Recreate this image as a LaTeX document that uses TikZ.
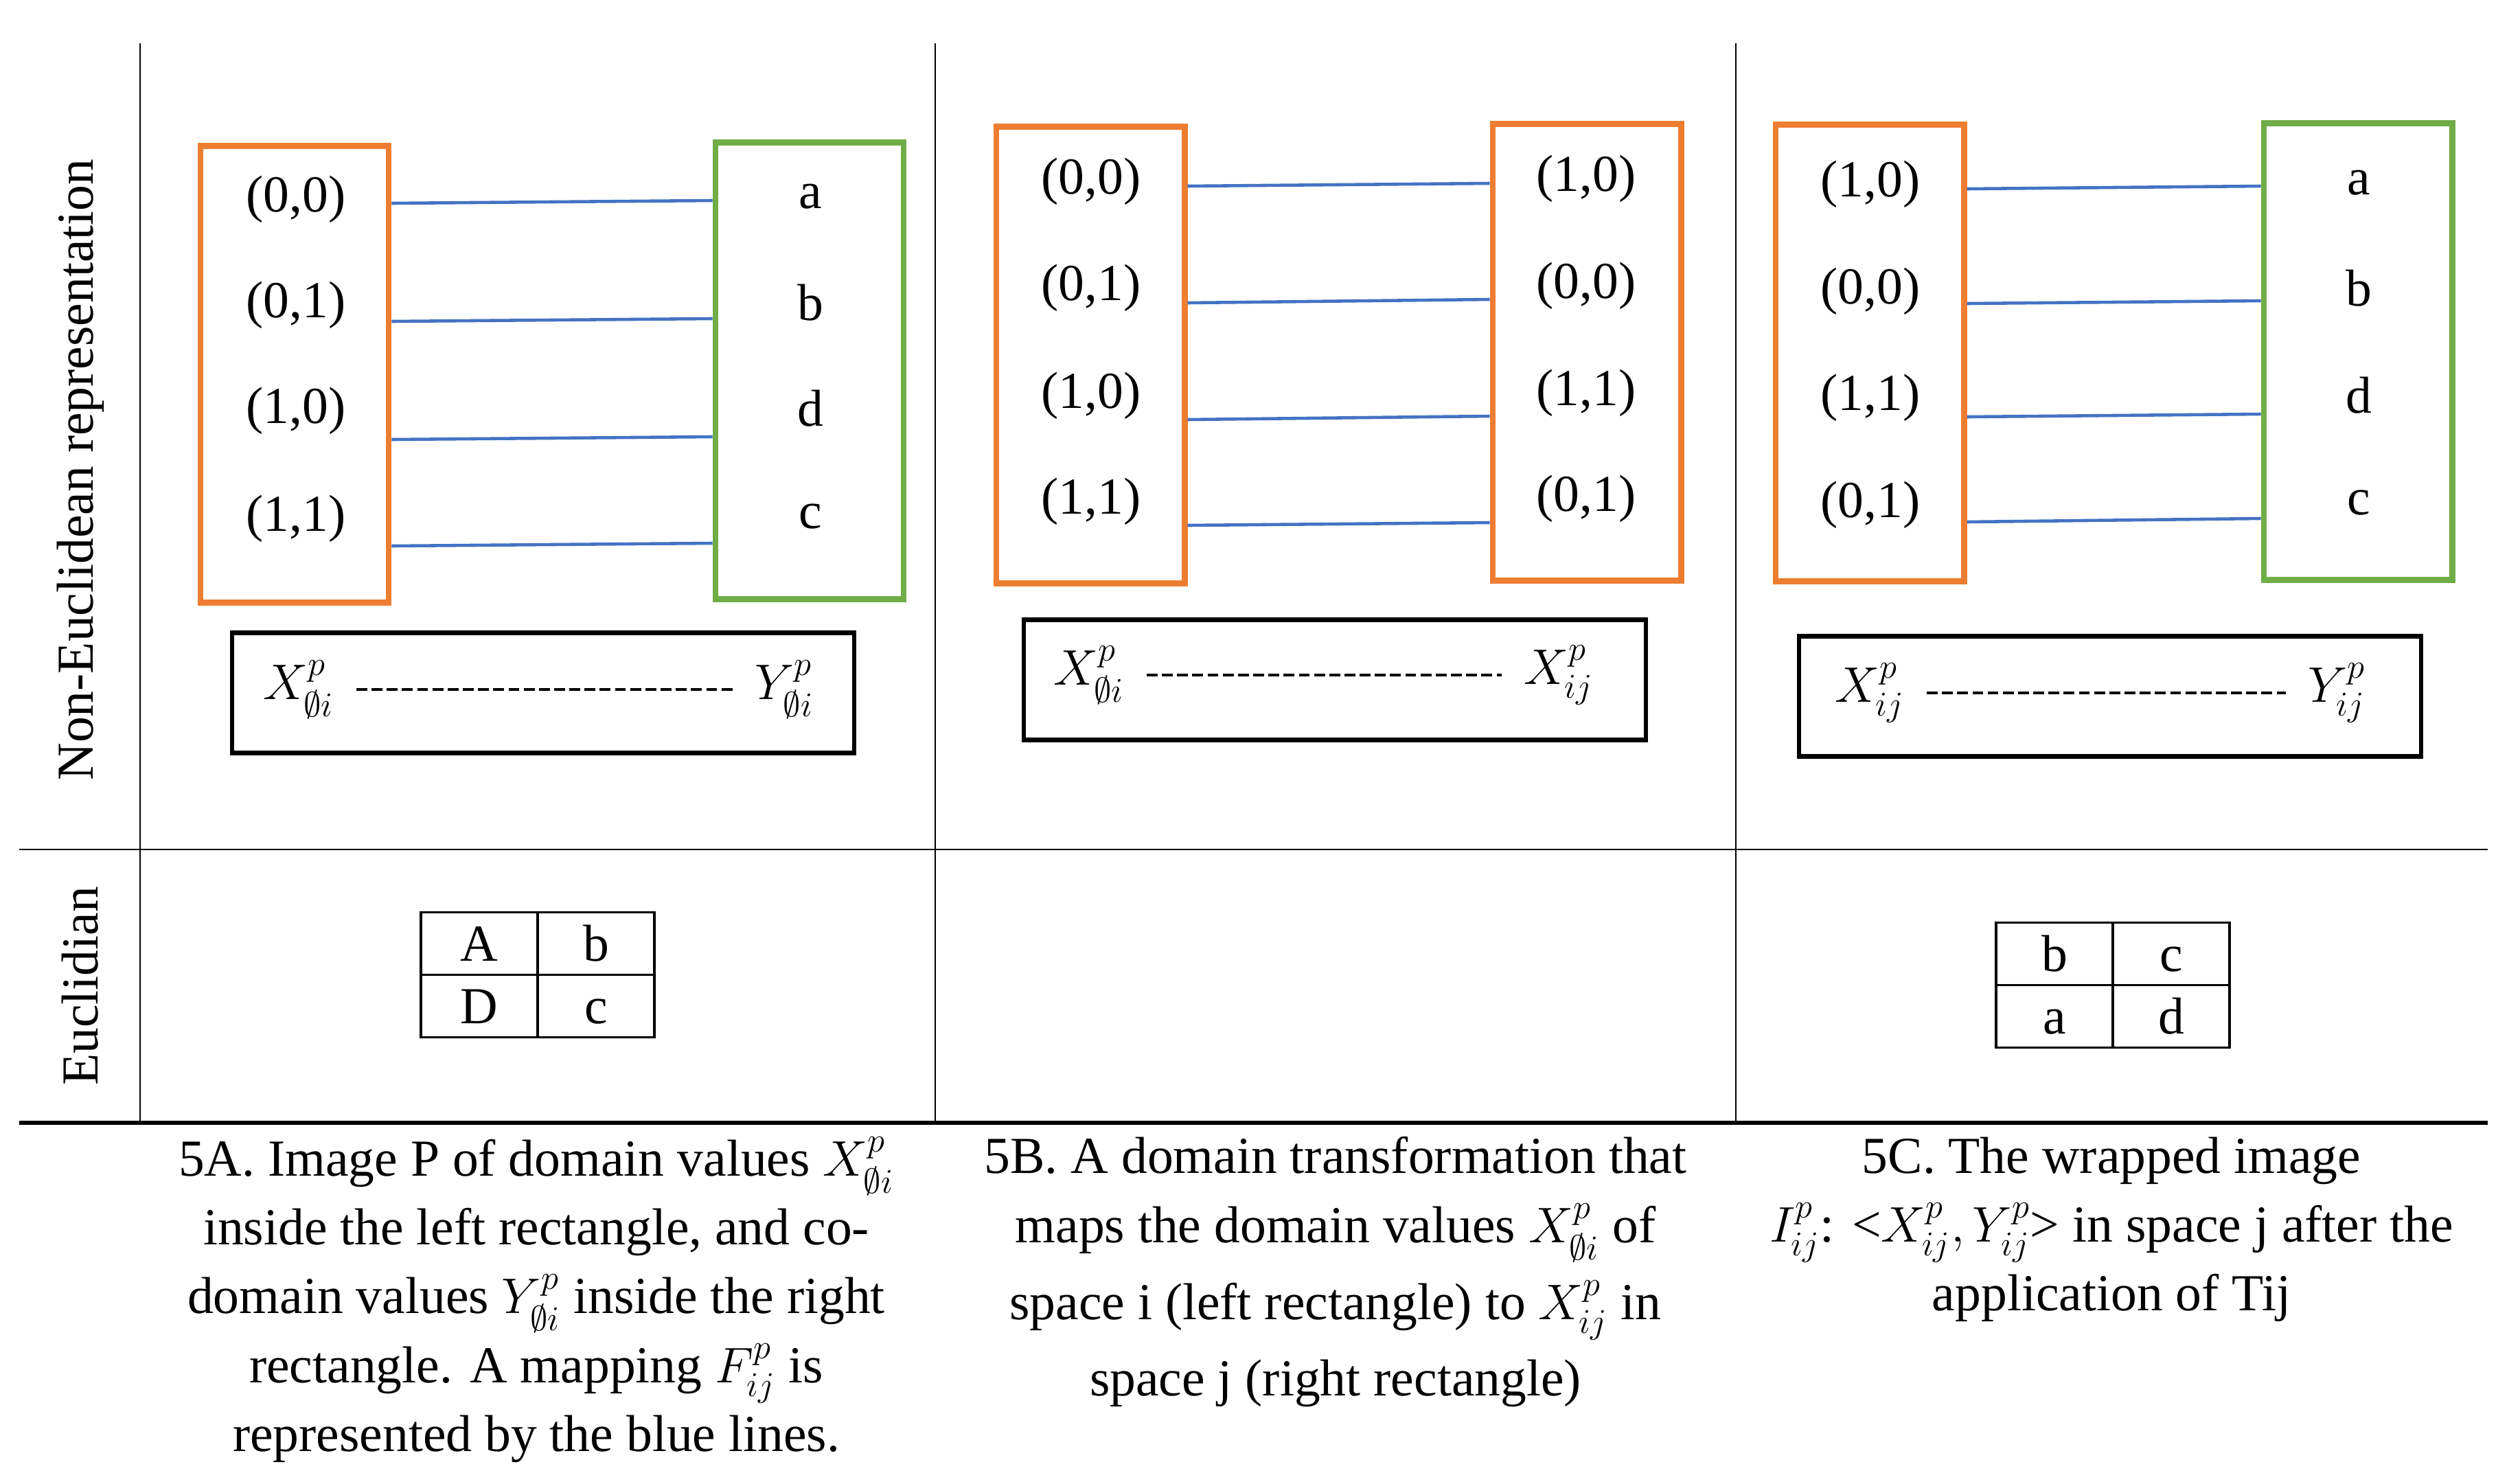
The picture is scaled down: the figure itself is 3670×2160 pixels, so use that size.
\documentclass[tikz,border=0pt]{standalone}
\usepackage{fontspec}
\setmainfont{Liberation Serif}
\usepackage{amssymb}
\usetikzlibrary{positioning}
\definecolor{wOrange}{RGB}{237,125,49}
\definecolor{wGreen}{RGB}{112,173,71}
\definecolor{wBlue}{RGB}{68,114,196}
\newcommand{\figfont}{\fontsize{21.5}{28.5}\selectfont}

\begin{document}
\begin{tikzpicture}[
  x=0.01cm, y=-0.01cm,
  font=\figfont,
  dom/.style={draw=wOrange, line width=2.5pt, minimum width=2.74cm, minimum height=6.65cm, inner sep=0pt},
  cod/.style={draw=wGreen, line width=2.5pt, minimum width=2.74cm, minimum height=6.65cm, inner sep=0pt},
  rel/.style={draw=black, line width=1.8pt, minimum width=9.05cm, minimum height=1.75cm, inner sep=0pt},
  val/.style={anchor=base, inner sep=0pt},
  sym/.style={inner sep=9pt},
  map/.style={draw=wBlue, line width=1.3pt},
  dsh/.style={line width=1pt, dash pattern=on 4.5pt off 1.8pt},
  cell/.style={draw=black, line width=1pt, minimum width=1.7cm, minimum height=0.91cm, inner sep=0pt, outer sep=0pt, text height=14.5pt, text depth=0pt},
  grid/.style={line width=0.8pt},
  captxt/.style={anchor=north, align=center, inner sep=0pt},
]
\useasboundingbox (0,0) rectangle (3670,2160);

% ---- table rules ----
\draw[grid] (204,63) -- (204,1635);
\draw[grid] (1362,63) -- (1362,1635);
\draw[grid] (2528,63) -- (2528,1635);
\draw[grid] (28,1237) -- (3623,1237);
\draw[grid, line width=1.5pt] (28,1635) -- (3623,1635);

% ---- row titles ----
\node[rotate=90] (rowNE) at (117,684) {Non-Euclidean representation};
\node[rotate=90] (rowEU) at (117,1436) {Euclidian};

% ---- 5A: image P ----
\node[dom] (domA) at (429,545) {};
\node[cod] (codA) at (1179,540) {};
\node[val] (dA1) at (431,308) {(0,0)};
\node[val] (dA2) at (431,462) {(0,1)};
\node[val] (dA3) at (431,616) {(1,0)};
\node[val] (dA4) at (431,773) {(1,1)};
\node[val] (cA1) at (1180,303) {a};
\node[val] (cA2) at (1180,466) {b};
\node[val] (cA3) at (1180,620) {d};
\node[val] (cA4) at (1180,769) {c};
\draw[map] (domA.east |- 0,296) -- (codA.west |- 0,292);
\draw[map] (domA.east |- 0,468) -- (codA.west |- 0,464);
\draw[map] (domA.east |- 0,640) -- (codA.west |- 0,636);
\draw[map] (domA.east |- 0,795) -- (codA.west |- 0,791);

\node[rel] (relA) at (791,1009) {};
\node[sym] (xA) at (435,1004) {$X^{p}_{\emptyset i}$};
\node[sym] (yA) at (1142,1004) {$Y^{p}_{\emptyset i}$};
\draw[dsh] (xA) -- (yA);

% ---- 5B: domain transformation ----
\node[dom] (domB) at (1588,517) {};
\node[dom] (domB2) at (2311,513) {};
\node[val] (dB1) at (1589,282) {(0,0)};
\node[val] (dB2) at (1589,437) {(0,1)};
\node[val] (dB3) at (1589,594) {(1,0)};
\node[val] (dB4) at (1589,748) {(1,1)};
\node[val] (eB1) at (2310,278) {(1,0)};
\node[val] (eB2) at (2310,434) {(0,0)};
\node[val] (eB3) at (2310,590) {(1,1)};
\node[val] (eB4) at (2310,744) {(0,1)};
\draw[map] (domB.east |- 0,271) -- (domB2.west |- 0,267);
\draw[map] (domB.east |- 0,441) -- (domB2.west |- 0,436);
\draw[map] (domB.east |- 0,611) -- (domB2.west |- 0,606);
\draw[map] (domB.east |- 0,765) -- (domB2.west |- 0,761);

\node[rel] (relB) at (1944,990) {};
\node[sym] (xB) at (1586,983) {$X^{p}_{\emptyset i}$};
\node[sym] (xB2) at (2270,983) {$X^{p}_{ij}$};
\draw[dsh] (xB) -- (xB2);

% ---- 5C: wrapped image ----
\node[dom] (domC) at (2723,514) {};
\node[cod] (codC) at (3434,512) {};
\node[val] (dC1) at (2724,286) {(1,0)};
\node[val] (dC2) at (2724,442) {(0,0)};
\node[val] (dC3) at (2724,597) {(1,1)};
\node[val] (dC4) at (2724,753) {(0,1)};
\node[val] (cC1) at (3435,283) {a};
\node[val] (cC2) at (3435,445) {b};
\node[val] (cC3) at (3435,601) {d};
\node[val] (cC4) at (3435,749) {c};
\draw[map] (domC.east |- 0,275) -- (codC.west |- 0,271);
\draw[map] (domC.east |- 0,442) -- (codC.west |- 0,438);
\draw[map] (domC.east |- 0,607) -- (codC.west |- 0,603);
\draw[map] (domC.east |- 0,760) -- (codC.west |- 0,755);

\node[rel] (relC) at (3073,1014) {};
\node[sym] (xC) at (2723,1009) {$X^{p}_{ij}$};
\node[sym] (yC) at (3403,1009) {$Y^{p}_{ij}$};
\draw[dsh] (xC) -- (yC);

% ---- Euclidian grids ----
\node[cell] (tA1) at (698,1374) {A};
\node[cell, right=0pt of tA1] (tA2) {b};
\node[cell, below=0pt of tA1] (tA3) {D};
\node[cell, right=0pt of tA3] (tA4) {c};

\node[cell] (tC1) at (2992,1389) {b};
\node[cell, right=0pt of tC1] (tC2) {c};
\node[cell, below=0pt of tC1] (tC3) {a};
\node[cell, right=0pt of tC3] (tC4) {d};

% ---- captions ----
\node[captxt] (capA) at (781,1655) {5A. Image P of domain values $X^{p}_{\emptyset i}$\\
  inside the left rectangle, and co-\\
  domain values $Y^{p}_{\emptyset i}$ inside the right\\
  rectangle. A mapping $F^{p}_{ij}$ is\\
  represented by the blue lines.};
\node[captxt] (capB) at (1945,1655) {5B. A domain transformation that\\
  maps the domain values $X^{p}_{\emptyset i}$ of\\[3.5pt]
  space i (left rectangle) to $X^{p}_{ij}$ in\\[3pt]
  space j (right rectangle)};
\node[captxt] (capC) at (3075,1655) {5C. The wrapped image\\
  $I^{p}_{ij}$: <$X^{p}_{ij},Y^{p}_{ij}$> in space j after the\\
  application of Tij};

\end{tikzpicture}
\end{document}
